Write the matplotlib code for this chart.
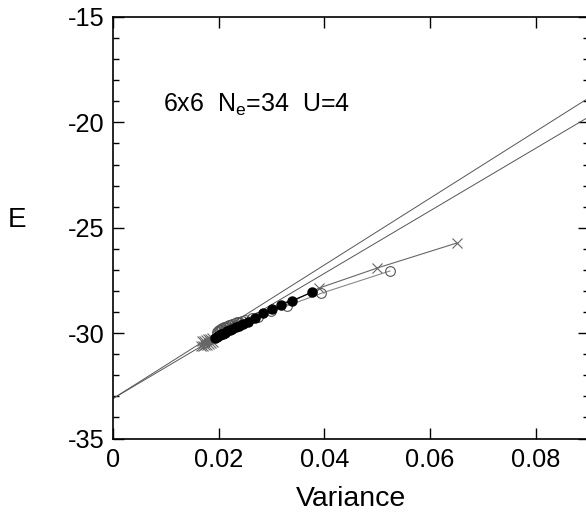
import numpy as np
import matplotlib
matplotlib.use('Agg')
import matplotlib.pyplot as plt

# energy vs variance, 6x6 lattice, Ne=34, U=4
E0 = -33.1
slope_upper = 158.4
slope_lower = 148.4

var_filled = [0.0193, 0.0196, 0.0199, 0.0202, 0.0205, 0.0208, 0.0212, 0.0216, 0.0221,
              0.0226, 0.0232, 0.0238, 0.0245, 0.0255, 0.0268, 0.0284, 0.0301, 0.0318,
              0.0338, 0.0377]
E_filled = [-30.23, -30.18, -30.14, -30.10, -30.06, -30.02, -29.97, -29.92, -29.86,
            -29.80, -29.73, -29.66, -29.58, -29.47, -29.28, -29.06, -28.87, -28.66,
            -28.46, -28.06]

var_open = [0.0196, 0.0198, 0.0200, 0.0202, 0.0204, 0.0207, 0.0210, 0.0213, 0.0216,
            0.0219, 0.0222, 0.0226, 0.0230, 0.0234, 0.0238, 0.0244, 0.0250, 0.0262,
            0.0275, 0.0299, 0.0329, 0.0394, 0.0524]
E_open = [-29.95, -29.90, -29.86, -29.83, -29.79, -29.76, -29.73, -29.69, -29.66,
          -29.63, -29.60, -29.56, -29.52, -29.49, -29.46, -29.42, -29.38, -29.30,
          -29.22, -28.93, -28.71, -28.11, -27.05]

var_cross = [0.0166, 0.0168, 0.0170, 0.0172, 0.0174, 0.0176, 0.0178, 0.0180, 0.0182,
             0.0184, 0.0186, 0.0188, 0.0190, 0.0389, 0.0500, 0.0651]
E_cross = [-30.62, -30.38, -30.60, -30.36, -30.57, -30.33, -30.54, -30.30, -30.50,
           -30.27, -30.46, -30.25, -30.42, -27.87, -26.91, -25.72]

plt.rcParams['font.family'] = ['Liberation Sans', 'DejaVu Sans']
plt.rcParams['axes.unicode_minus'] = False

fig = plt.figure(figsize=(5.86, 5.15), dpi=100)
ax = fig.add_axes([0.193, 0.1485, 1.0044 - 0.193, 0.967 - 0.1485])

# extrapolation lines
xl = np.array([0.0, 0.09])
ax.plot(xl, E0 + slope_upper * xl, color='#555555', lw=0.7)
ax.plot(xl, E0 + slope_lower * xl, color='#555555', lw=0.7)

ax.plot(var_cross, E_cross, color='#666666', lw=0.8, marker='x', ms=7, mew=0.8, mec='#666666')
ax.plot(var_open, E_open, color='#888888', lw=0.8, marker='o', ms=7, mfc='none', mec='#555555', mew=0.8)
ax.plot(var_filled, E_filled, color='black', lw=0.8, marker='o', ms=6.5, mfc='black', mec='black')

ax.text(0.0095, -19.5, '6x6  N$_\\mathregular{e}$=34  U=4', fontsize=18)

ax.set_xlim(0, 0.09)
ax.set_ylim(-35, -15)
ax.set_xticks([0, 0.02, 0.04, 0.06, 0.08])
ax.set_xticklabels(['0', '0.02', '0.04', '0.06', '0.08'])
ax.set_yticks([-35, -30, -25, -20, -15])
ax.set_yticks(np.arange(-35, -14, 1), minor=True)
ax.tick_params(which='both', direction='in', right=True, top=True, labelsize=18.3, width=1)
ax.tick_params(axis='x', pad=7)
ax.tick_params(axis='y', pad=6)
ax.tick_params(which='major', length=8)
ax.tick_params(which='minor', length=4)
for s in ax.spines.values():
    s.set_linewidth(1.2)

ax.set_xlabel('Variance', fontsize=20.5, labelpad=10)
ax.set_ylabel('E', fontsize=20, rotation=0, ha='center', va='center')
ax.yaxis.set_label_coords(-0.202, 0.518)

fig.savefig('out.png', dpi=100)
